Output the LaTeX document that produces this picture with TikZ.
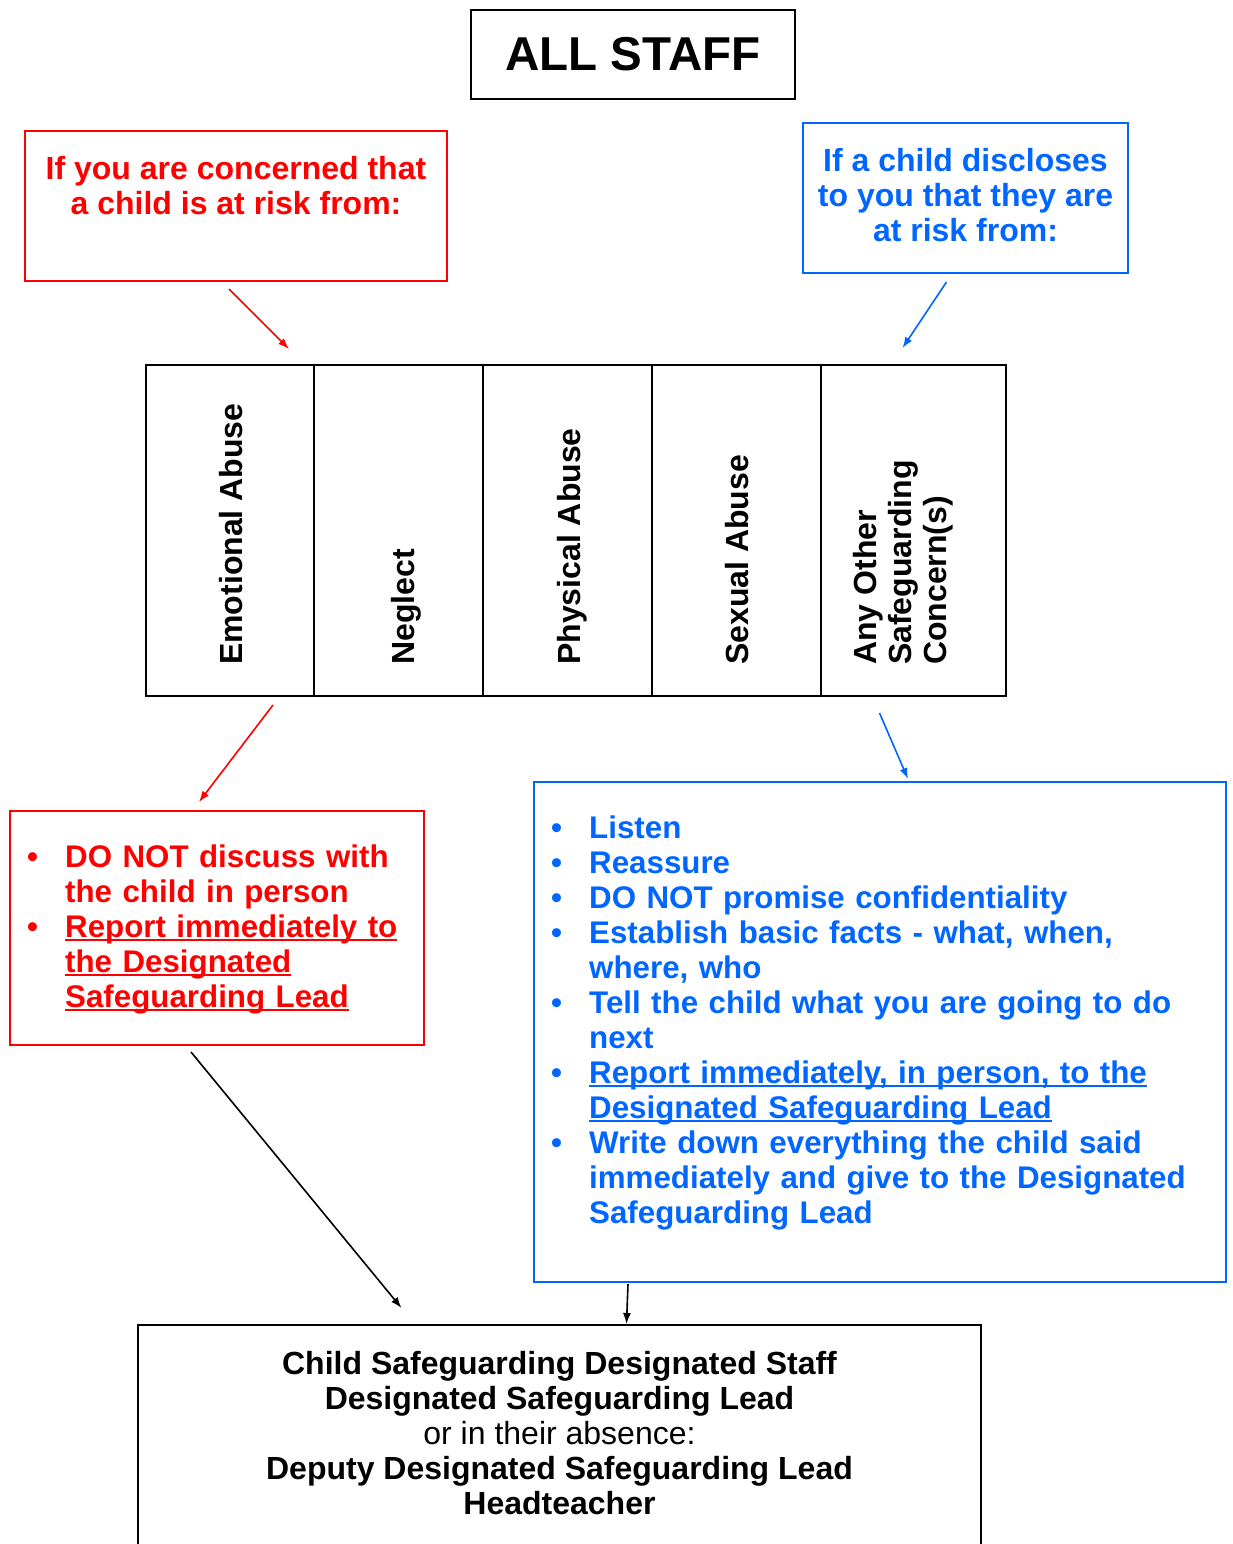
\documentclass[tikz,border=0pt]{standalone}
\usepackage{fontspec}
\setmainfont{Liberation Sans}
\usetikzlibrary{positioning, arrows.meta}
\definecolor{alertred}{RGB}{255,0,0}
\definecolor{discblue}{RGB}{0,102,255}
\newcommand{\ulin}[1]{\leavevmode\setbox0\hbox{#1}\rlap{\rule[-4pt]{\wd0}{2.4pt}}\box0}
\newenvironment{bullets}{\begin{list}{\textbullet\hfill}{%
    \setlength\leftmargin{38pt}\setlength\labelwidth{38pt}\setlength\labelsep{0pt}%
    \setlength\itemsep{0pt}\setlength\topsep{0pt}\setlength\partopsep{0pt}%
    \setlength\parsep{0pt}}}{\end{list}}

\begin{document}
\begin{tikzpicture}[
    % GLOBAL CFG
    x=1pt, y=-1pt,
    font=\fontsize{32}{35}\selectfont\bfseries,
    >={Latex[length=11pt,width=8pt]},
    % Styles
    box/.style={% For the black boxes
        rectangle,
        draw,
        line width=2pt,
        inner sep=0pt,
        outer sep=0pt,
        },
    redbox/.style={% For the concern boxes
        box,
        draw=alertred,
        line width=1.6pt,
        },
    bluebox/.style={% For the disclosure boxes
        box,
        draw=discblue,
        line width=1.6pt,
        },
    column/.style={% For the table of risks
        box,
        minimum height=331pt,
        },
    vlabel/.style={% Rotated text in the table
        rotate=90,
        anchor=west,
        align=left,
        inner sep=0pt,
        },
    redtext/.style={%
        text=alertred,
        align=center,
        inner sep=0pt,
        },
    bluetext/.style={%
        text=discblue,
        align=center,
        inner sep=0pt,
        },
    listfont/.style={font=\fontsize{31.3}{35}\selectfont\bfseries},
    redarrow/.style={->, alertred, line width=1.6pt},
    bluearrow/.style={->, discblue, line width=1.6pt},
    blackarrow/.style={->, black, line width=1.6pt},
    ]

    \useasboundingbox (0,0) rectangle (1232,1544);

    % Title
    \node [box, minimum width=324pt, minimum height=89pt, anchor=north west,
        font=\fontsize{47.5}{50}\selectfont\bfseries] (staff) at (471,10) {ALL STAFF};

    % Top boxes
    \node [redbox, minimum width=422pt, minimum height=150pt, anchor=north west] (concern) at (25,131) {};
    \node [redtext, below=25pt of concern.north] (concerntxt) {If you are concerned that\\a child is at risk from:};

    \node [bluebox, minimum width=325pt, minimum height=150pt, anchor=north west] (disclose) at (803,123) {};
    \node [bluetext, below=25pt of disclose.north] (disclosetxt) {If a child discloses\\to you that they are\\at risk from:};

    % Table of risks
    \node [column, minimum width=168pt, anchor=north west] (emo) at (146,365) {};
    \node [column, minimum width=169pt, right=0pt of emo] (negl) {};
    \node [column, minimum width=169pt, right=0pt of negl] (phys) {};
    \node [column, minimum width=169pt, right=0pt of phys] (sex) {};
    \node [column, minimum width=185pt, right=0pt of sex] (other) {};

    \node [vlabel] (emotxt) at ([xshift=1pt,yshift=31pt]emo.south) {Emotional Abuse};
    \node [vlabel] (negltxt) at ([xshift=8pt,yshift=31pt]negl.south) {Neglect};
    \node [vlabel] (phystxt) at ([xshift=5pt,yshift=31pt]phys.south) {Physical Abuse};
    \node [vlabel] (sextxt) at ([xshift=1pt,yshift=31pt]sex.south) {Sexual Abuse};
    \node [vlabel] (othertxt) at ([xshift=-10pt,yshift=31pt]other.south) {Any Other\\Safeguarding\\Concern(s)};

    % Action boxes
    \node [redbox, minimum width=414pt, minimum height=234pt, anchor=north west] (donot) at (10,811) {};
    \node [redtext, listfont, text width=390pt, align=left, anchor=north west] (donottxt)
        at ([xshift=17pt,yshift=-21pt]donot.north west) {%
        \begin{bullets}
        \item DO NOT discuss with\\the child in person
        \item \ulin{Report immediately to}\\\ulin{the Designated}\\\ulin{Safeguarding Lead}
        \end{bullets}};

    \node [bluebox, minimum width=692pt, minimum height=500pt, anchor=north west] (listen) at (534,782) {};
    \node [bluetext, listfont, text width=670pt, align=left, anchor=north west] (listentxt)
        at ([xshift=17pt,yshift=-21pt]listen.north west) {%
        \begin{bullets}
        \item Listen
        \item Reassure
        \item DO NOT promise confidentiality
        \item Establish basic facts - what, when,\\where, who
        \item Tell the child what you are going to do\\next
        \item \ulin{Report immediately, in person, to the}\\\ulin{Designated Safeguarding Lead}
        \item Write down everything the child said\\immediately and give to the Designated\\Safeguarding Lead
        \end{bullets}};

    % Designated staff
    \node [box, minimum width=843pt, minimum height=240pt, anchor=north west] (dsl) at (138,1325) {};
    \node [align=center, inner sep=0pt, below=26pt of dsl.north] (dsltxt) {%
        Child Safeguarding Designated Staff\\Designated Safeguarding Lead\\
        {\mdseries or in their absence:}\\Deputy Designated Safeguarding Lead\\Headteacher};

    % Arrows
    \draw [redarrow] ([xshift=-7pt,yshift=-8pt]concern.south) -- ([xshift=-25pt,yshift=16pt]emo.north east);
    \draw [bluearrow] ([xshift=-19pt,yshift=-9pt]disclose.south) -- ([xshift=-11pt,yshift=17pt]other.north);
    \draw [redarrow] ([xshift=43pt,yshift=-9pt]emo.south) -- ([xshift=-18pt,yshift=9pt]donot.north);
    \draw [bluearrow] ([xshift=-34pt,yshift=-17pt]other.south) -- ([xshift=28pt,yshift=3pt]listen.north);
    \draw [blackarrow] ([xshift=-26pt,yshift=-7pt]donot.south) -- ([xshift=-158pt,yshift=17pt]dsl.north);
    \draw [blackarrow] ([xshift=-252pt,yshift=-2pt]listen.south) -- ([xshift=67pt,yshift=1pt]dsl.north);

\end{tikzpicture}
\end{document}
